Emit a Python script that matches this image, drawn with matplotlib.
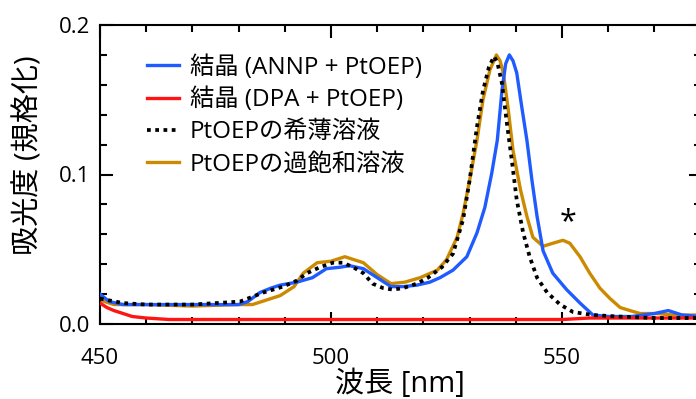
import matplotlib
matplotlib.use("Agg")
import matplotlib.pyplot as plt
from matplotlib.ticker import MultipleLocator

plt.rcParams['font.family'] = ['Open Sans', 'Noto Sans CJK JP', 'DejaVu Sans']

# Absorption spectra (normalised), wavelength in nm
wl_annp = [450, 452, 455, 460, 465, 470, 475, 480, 482, 484.6, 487, 489, 492.6, 496, 499,
           502, 504, 507, 510, 513, 515.6, 518.6, 521.4, 523.6, 526.4, 529.4, 531.6, 533.3,
           534.8, 536, 537, 537.8, 538.6, 539.4, 540.2, 541.3, 542.4, 543.5, 544.6, 545.9,
           548, 551, 553.9, 556.7, 560, 565, 570, 573, 576, 580]
abs_annp = [0.020, 0.015, 0.013, 0.013, 0.013, 0.013, 0.013, 0.013, 0.015, 0.021, 0.024, 0.026,
            0.028, 0.031, 0.037, 0.038, 0.039, 0.037, 0.031, 0.025, 0.025, 0.026, 0.028, 0.031,
            0.036, 0.045, 0.061, 0.078, 0.101, 0.123, 0.156, 0.174, 0.180, 0.176, 0.168, 0.145,
            0.123, 0.096, 0.072, 0.049, 0.034, 0.023, 0.014, 0.006, 0.005, 0.005, 0.007, 0.009,
            0.006, 0.005]

wl_dpa = [450, 451.5, 453, 455, 457, 460, 465, 470, 480, 490, 500, 510, 520, 530, 540, 550,
          556, 560, 570, 580]
abs_dpa = [0.014, 0.011, 0.009, 0.007, 0.005, 0.004, 0.003, 0.003, 0.003, 0.003, 0.003, 0.003,
           0.003, 0.003, 0.003, 0.003, 0.004, 0.004, 0.004, 0.004]

wl_dilute = [450, 455, 460, 470, 480.3, 485.3, 489.6, 492.6, 494.8, 497.6, 500.4, 502.6, 504.8,
             507, 509, 511.3, 513.4, 515.6, 518.6, 521, 524, 526.4, 528.6, 530, 531.6, 532.9,
             534.2, 535.3, 536, 537, 538, 539.2, 540.2, 541.6, 543, 544.6, 546.8, 549.6, 552.4,
             556.7, 562, 570, 580]
abs_dilute = [0.017, 0.014, 0.013, 0.013, 0.015, 0.021, 0.025, 0.029, 0.034, 0.038, 0.041, 0.041,
              0.038, 0.034, 0.027, 0.024, 0.023, 0.024, 0.027, 0.031, 0.038, 0.047, 0.070, 0.096,
              0.132, 0.156, 0.172, 0.179, 0.175, 0.161, 0.136, 0.108, 0.083, 0.061, 0.045, 0.031,
              0.021, 0.013, 0.008, 0.006, 0.005, 0.004, 0.004]

wl_sat = [450, 453, 460, 470, 480, 483, 486, 489, 492, 494, 497, 500, 503, 505, 507, 510, 513,
          516, 519.3, 523, 525, 527.3, 528.6, 530, 531.6, 532.9, 534.4, 535.8, 536.6, 537.3,
          538.3, 539.4, 541, 542.4, 543.7, 545.9, 548, 550.2, 551.7, 553.9, 556, 558.2, 560.4,
          562.6, 564.7, 566.9, 570.6, 574, 578.4, 580]
abs_sat = [0.016, 0.013, 0.013, 0.012, 0.013, 0.013, 0.016, 0.019, 0.025, 0.034, 0.041, 0.042,
           0.045, 0.043, 0.041, 0.033, 0.027, 0.028, 0.031, 0.036, 0.043, 0.058, 0.074, 0.096,
           0.123, 0.150, 0.170, 0.180, 0.176, 0.168, 0.145, 0.116, 0.090, 0.072, 0.058, 0.052,
           0.054, 0.056, 0.054, 0.045, 0.034, 0.024, 0.017, 0.011, 0.009, 0.007, 0.007, 0.006,
           0.006, 0.006]

labels = ['結晶 (ANNP + PtOEP)', '結晶 (DPA + PtOEP)', 'PtOEPの希薄溶液', 'PtOEPの過飽和溶液']
x_ticks = [450, 500, 550]
y_ticks = [0.0, 0.1, 0.2]

W, H = 696, 399
fig = plt.figure(figsize=(W / 100, H / 100), dpi=100)
ax = fig.add_axes([100 / W, (H - 324) / H, 600.6 / W, 299 / H])

ax.plot(wl_sat, abs_sat, color='#cc8a00', lw=2.4, label=labels[3], zorder=2)
ax.plot(wl_annp, abs_annp, color='#1f5bff', lw=2.4, label=labels[0], zorder=3)
ax.plot(wl_dpa, abs_dpa, color='#ff1414', lw=2.4, label=labels[1], zorder=4)
ax.plot(wl_dilute, abs_dilute, color='black', lw=2.7, linestyle=(0, (1, 1.2)),
        label=labels[2], zorder=5)

ax.set_xlim(450, 580)
ax.set_ylim(0, 0.2)
ax.set_xticks(x_ticks)
ax.set_yticks(y_ticks)
ax.set_yticklabels(['0.0', '0.1', '0.2'])
ax.xaxis.set_minor_locator(MultipleLocator(10))
ax.yaxis.set_minor_locator(MultipleLocator(0.02))
ax.tick_params(which='both', direction='in', top=True, right=True, width=1.5,
               labelsize=16)
ax.tick_params(which='major', length=9)
ax.tick_params(which='minor', length=5)
ax.tick_params(axis='x', pad=17)
ax.tick_params(axis='y', pad=7)
for s in ax.spines.values():
    s.set_linewidth(1.5)

handles, labs = ax.get_legend_handles_labels()
order = [labs.index(l) for l in labels]
leg = ax.legend([handles[i] for i in order], [labs[i] for i in order],
                loc='upper left', bbox_to_anchor=(147 / W, 1 - 55 / H),
                bbox_transform=fig.transFigure, frameon=False, fontsize=17.5,
                handlelength=1.3, handletextpad=0.45, labelspacing=0.33,
                borderpad=0, borderaxespad=0)

ax.text(551.3, 0.068, '*', ha='center', va='center', fontsize=22)

fig.text(29 / W, 1 - 155 / H, '吸光度 (規格化)', rotation=90, ha='center', va='center',
         fontsize=21)
fig.text(400 / W, 1 - 392 / H, '波長 [nm]', ha='center', va='baseline', fontsize=21)

fig.savefig('out.png', dpi=100)
